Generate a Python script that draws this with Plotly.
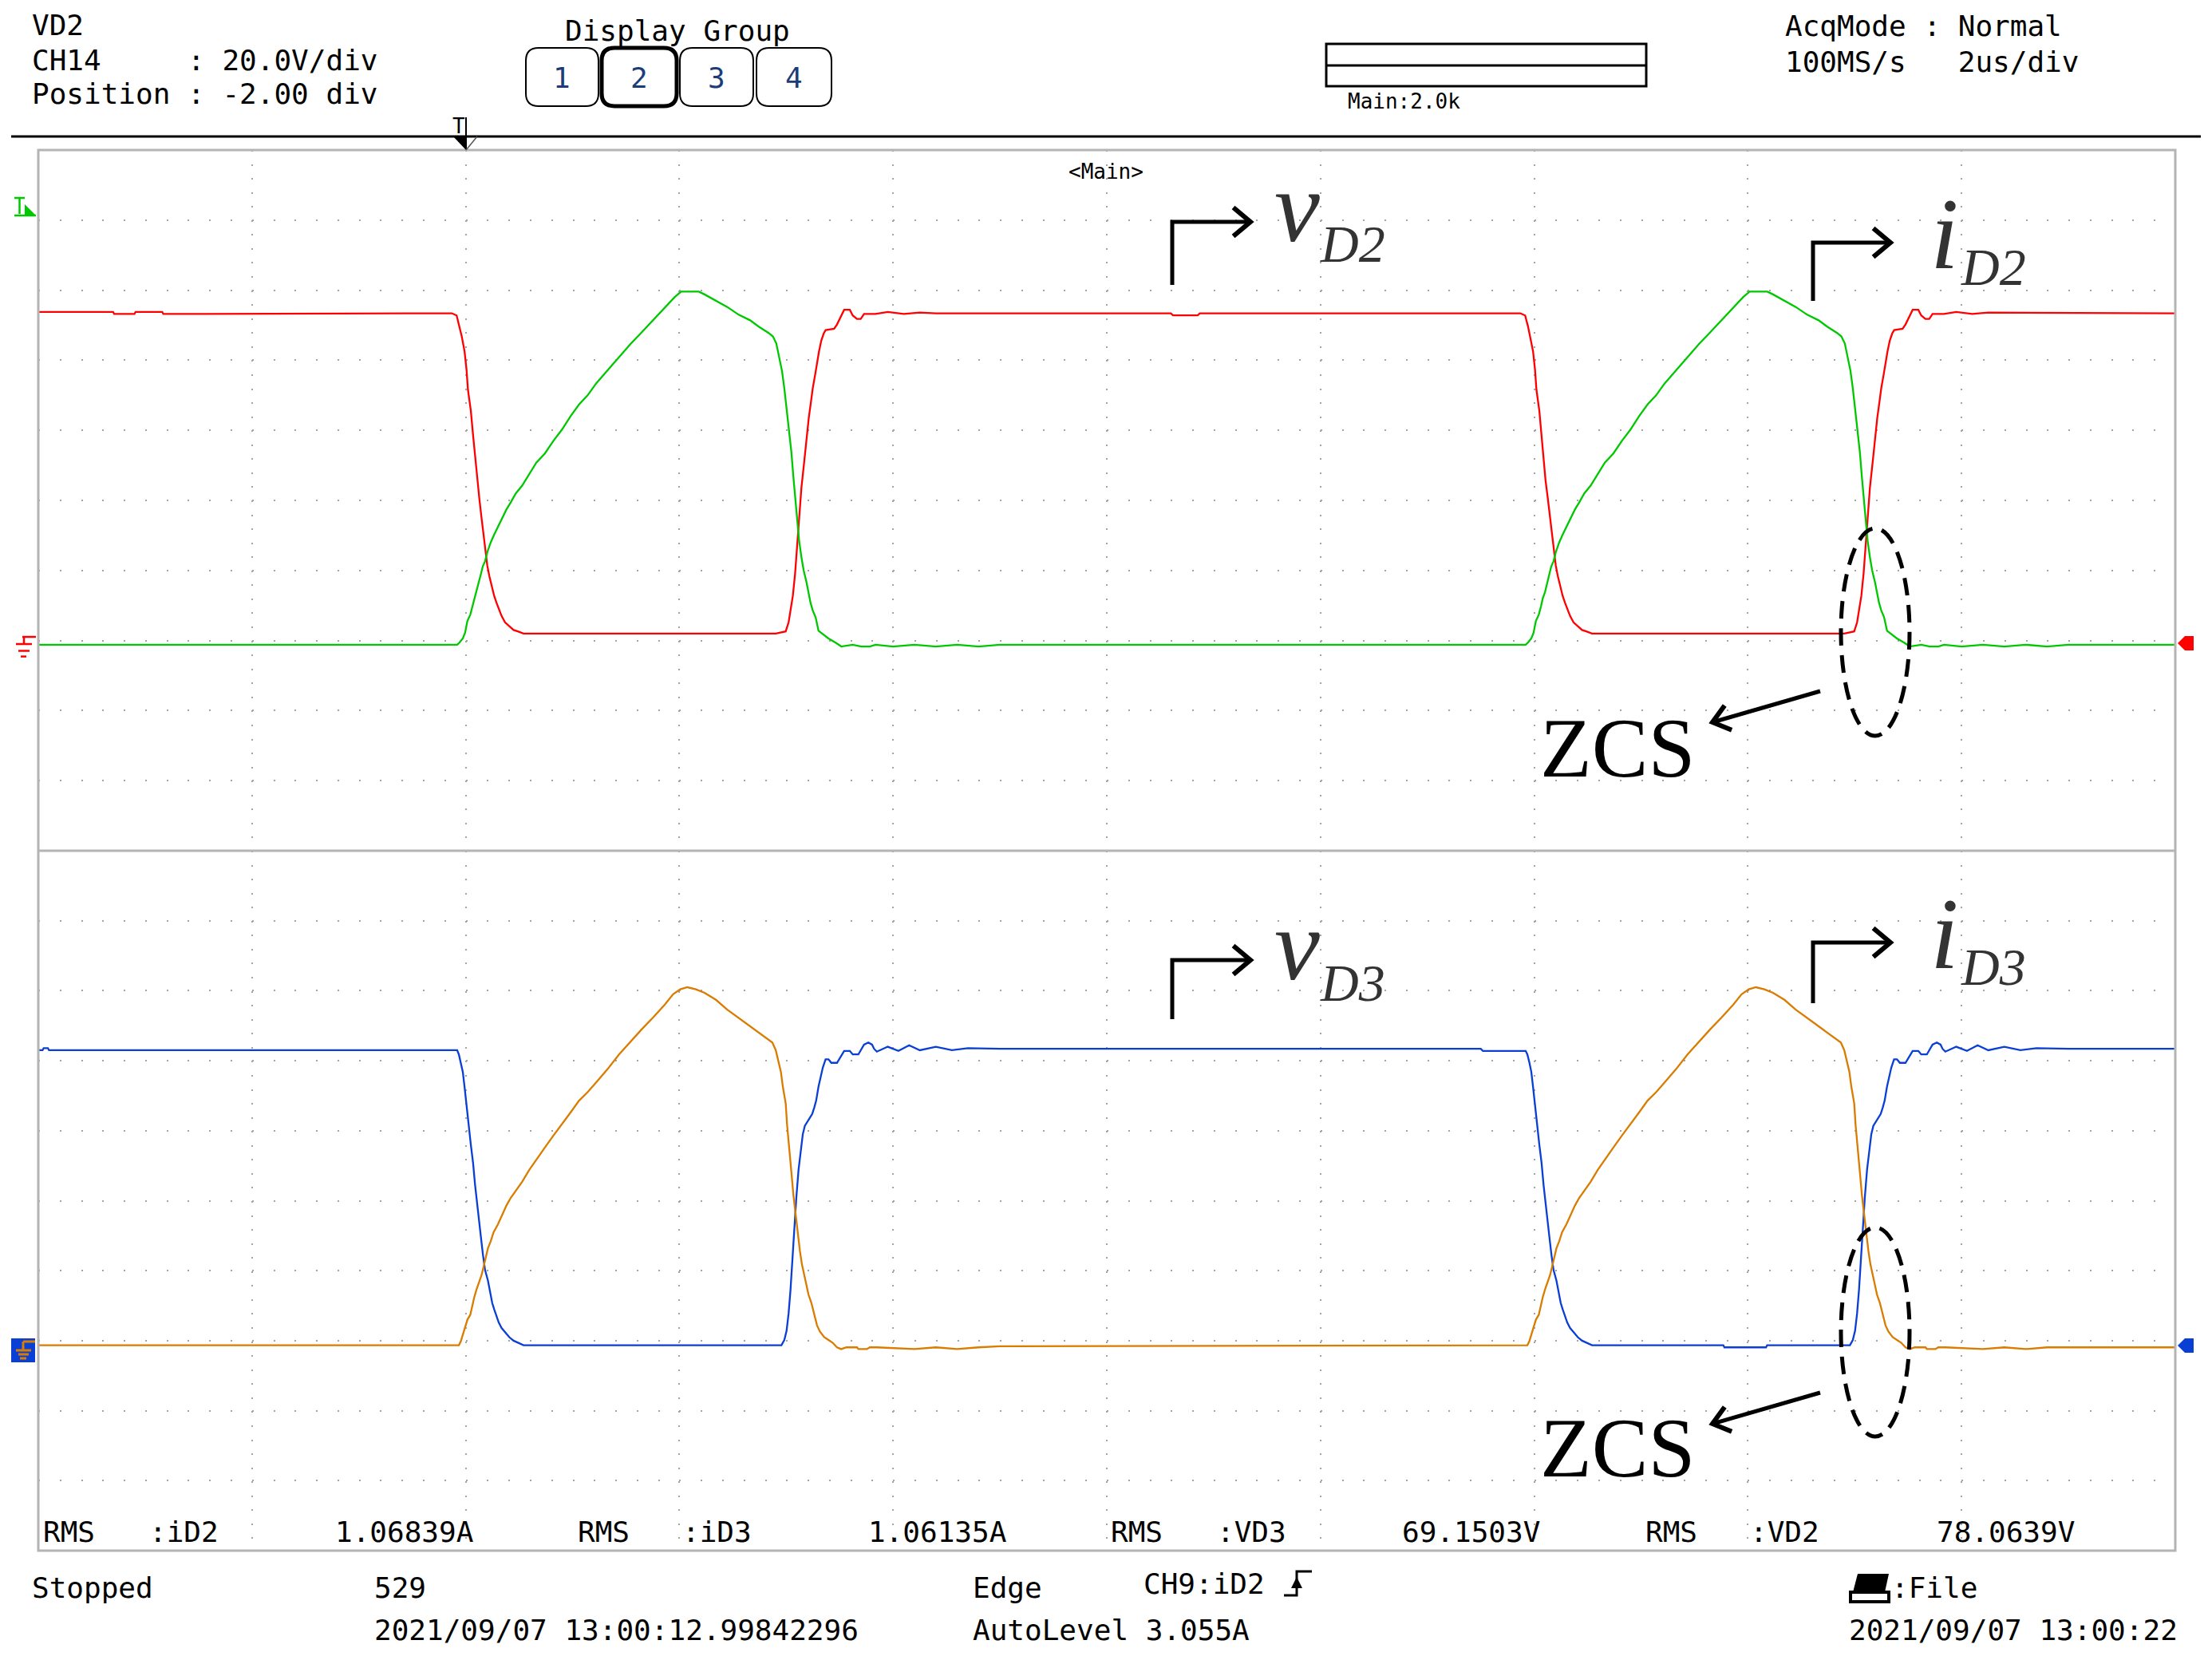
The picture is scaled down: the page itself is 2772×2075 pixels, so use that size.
import math
import plotly.graph_objects as go

W, H = 2772, 2075          # page size (reference pixels)
OFF = 8                    # default body margin of the html page
FW, FH = W - 2 * OFF, H - 2 * OFF

# ---------------- data (time in us, value in divisions above channel ground) -------------
T_VD2 = [-4.0, -3.30, -3.29, -3.10, -3.09, -2.84, -2.83, -0.13,
         -0.085, -0.059, -0.037, -0.011, 0.008, 0.021, 0.048, 0.069, 0.088, 0.106, 0.128, 0.149, 0.168, 0.186, 0.202,
         0.221, 0.243, 0.266, 0.288, 0.309, 0.336, 0.368, 0.408, 0.448, 0.488, 0.541,
         2.902, 2.995, 3.022, 3.040, 3.062, 3.083, 3.102, 3.120, 3.142, 3.168, 3.190, 3.211, 3.230, 3.248, 3.270,
         3.288, 3.307, 3.328, 3.350, 3.369, 3.448, 3.475, 3.502, 3.542, 3.595, 3.622, 3.662, 3.697, 3.728, 3.835,
         3.95, 4.10, 4.25, 4.40, 6.60, 6.62, 6.85, 6.87,
         9.87, 9.915, 9.941, 9.963, 9.989, 10.008, 10.021, 10.048, 10.069, 10.088, 10.106, 10.128, 10.149, 10.168,
         10.186, 10.202, 10.221, 10.243, 10.266, 10.288, 10.309, 10.336, 10.368, 10.408, 10.448, 10.488, 10.541,
         12.902, 12.995, 13.022, 13.040, 13.062, 13.083, 13.102, 13.120, 13.142, 13.168, 13.190, 13.211, 13.230,
         13.248, 13.270, 13.288, 13.307, 13.328, 13.350, 13.369, 13.448, 13.475, 13.502, 13.542, 13.595, 13.622,
         13.662, 13.697, 13.728, 13.835, 13.95, 14.10, 14.25, 16.0]
VD2_DIV = [4.69, 4.69, 4.66, 4.66, 4.69, 4.69, 4.66, 4.67,
           4.64, 4.49, 4.34, 4.13, 3.86, 3.58, 3.28, 2.93, 2.63, 2.29, 2.02, 1.74, 1.49, 1.28, 1.07,
           0.92, 0.77, 0.64, 0.54, 0.45, 0.35, 0.26, 0.20, 0.15, 0.13, 0.10,
           0.10, 0.13, 0.26, 0.41, 0.64, 0.96, 1.36, 1.78, 2.18, 2.55, 2.90, 3.18, 3.39, 3.60, 3.79,
           3.96, 4.13, 4.28, 4.38, 4.43, 4.45, 4.51, 4.60, 4.72, 4.72, 4.64, 4.59, 4.59, 4.66, 4.66,
           4.69, 4.66, 4.68, 4.67, 4.67, 4.64, 4.64, 4.67,
           4.67, 4.64, 4.49, 4.34, 4.13, 3.86, 3.58, 3.28, 2.93, 2.63, 2.29, 2.02, 1.74, 1.49,
           1.28, 1.07, 0.92, 0.77, 0.64, 0.54, 0.45, 0.35, 0.26, 0.20, 0.15, 0.13, 0.10,
           0.10, 0.13, 0.26, 0.41, 0.64, 0.96, 1.36, 1.78, 2.18, 2.55, 2.90, 3.18, 3.39,
           3.60, 3.79, 3.96, 4.13, 4.28, 4.38, 4.43, 4.45, 4.51, 4.60, 4.72, 4.72, 4.64,
           4.59, 4.59, 4.66, 4.66, 4.69, 4.66, 4.68, 4.67]

T_ID2 = [-4.0,
         -0.08, -0.059, -0.027, -0.006, 0.016, 0.043, 0.064, 0.080, 0.101, 0.122,
         0.141, 0.160, 0.181, 0.202, 0.234, 0.266, 0.301, 0.341, 0.381, 0.421,
         0.469, 0.528, 0.595, 0.661, 0.741, 0.821, 0.901, 0.981, 1.061, 1.141,
         1.221, 1.328, 1.435, 1.541, 1.648, 1.755, 1.862, 1.955, 2.016, 2.182,
         2.235, 2.342, 2.448, 2.555, 2.662, 2.742, 2.835, 2.875, 2.907, 2.934,
         2.960, 2.982, 3.003, 3.030, 3.048, 3.067, 3.088, 3.102, 3.120, 3.142,
         3.163, 3.190, 3.208, 3.227, 3.248, 3.275, 3.302, 3.342, 3.395, 3.462,
         3.515, 3.622, 3.702, 3.782, 3.835, 4.0, 4.2, 4.4, 4.6, 4.8, 5.0,
         9.92, 9.941, 9.973, 9.994, 10.016, 10.043, 10.064, 10.080, 10.101, 10.122,
         10.141, 10.160, 10.181, 10.202, 10.234, 10.266, 10.301, 10.341, 10.381, 10.421,
         10.469, 10.528, 10.595, 10.661, 10.741, 10.821, 10.901, 10.981, 11.061, 11.141,
         11.221, 11.328, 11.435, 11.541, 11.648, 11.755, 11.862, 11.955, 12.016, 12.182,
         12.235, 12.342, 12.448, 12.555, 12.662, 12.742, 12.835, 12.875, 12.907, 12.934,
         12.960, 12.982, 13.003, 13.030, 13.048, 13.067, 13.088, 13.102, 13.120, 13.142,
         13.163, 13.190, 13.208, 13.227, 13.248, 13.275, 13.302, 13.342, 13.395, 13.462,
         13.515, 13.622, 13.702, 13.782, 13.835, 14.0, 14.2, 14.4, 14.6, 14.8, 15.0, 16.0]
ID2_DIV = [-0.06,
           -0.06, -0.03, 0.03, 0.11, 0.28, 0.37, 0.49, 0.60, 0.69, 0.81,
           0.94, 1.06, 1.13, 1.26, 1.40, 1.51, 1.62, 1.75, 1.87, 1.97,
           2.10, 2.21, 2.38, 2.54, 2.67, 2.85, 3.01, 3.20, 3.37, 3.50,
           3.67, 3.86, 4.04, 4.23, 4.40, 4.57, 4.74, 4.90, 4.98, 4.98,
           4.94, 4.85, 4.76, 4.65, 4.57, 4.48, 4.39, 4.34, 4.24, 4.04,
           3.85, 3.60, 3.31, 3.01, 2.69, 2.33, 2.00, 1.70, 1.43, 1.19,
           1.00, 0.83, 0.68, 0.54, 0.43, 0.33, 0.14, 0.09, 0.03, -0.03,
           -0.085, -0.06, -0.085, -0.085, -0.06, -0.085, -0.06, -0.085, -0.06, -0.085, -0.06,
           -0.06, -0.03, 0.03, 0.11, 0.28, 0.37, 0.49, 0.60, 0.69, 0.81,
           0.94, 1.06, 1.13, 1.26, 1.40, 1.51, 1.62, 1.75, 1.87, 1.97,
           2.10, 2.21, 2.38, 2.54, 2.67, 2.85, 3.01, 3.20, 3.37, 3.50,
           3.67, 3.86, 4.04, 4.23, 4.40, 4.57, 4.74, 4.90, 4.98, 4.98,
           4.94, 4.85, 4.76, 4.65, 4.57, 4.48, 4.39, 4.34, 4.24, 4.04,
           3.85, 3.60, 3.31, 3.01, 2.69, 2.33, 2.00, 1.70, 1.43, 1.19,
           1.00, 0.83, 0.68, 0.54, 0.43, 0.33, 0.14, 0.09, 0.03, -0.03,
           -0.085, -0.06, -0.085, -0.085, -0.06, -0.085, -0.06, -0.085, -0.06, -0.085, -0.06, -0.06]

T_VD3 = [-4.0, -3.96, -3.95, -3.91, -3.90, -0.080,
         -0.064, -0.046, -0.027, -0.011, 0.008, 0.026, 0.048, 0.069, 0.088, 0.106,
         0.128, 0.146, 0.162, 0.181, 0.208, 0.229, 0.248, 0.266, 0.288, 0.309,
         0.336, 0.368, 0.408, 0.448, 0.488, 0.541,
         2.955, 2.982, 3.003, 3.022, 3.040, 3.056, 3.075, 3.094, 3.115, 3.136,
         3.155, 3.174, 3.195, 3.222, 3.243, 3.262, 3.280, 3.302, 3.323, 3.342,
         3.368, 3.395, 3.422, 3.475, 3.515, 3.542, 3.595, 3.622, 3.675, 3.702,
         3.728, 3.768, 3.803, 3.822, 3.848,
         3.95, 4.05, 4.15, 4.25, 4.40, 4.55, 4.70, 5.0, 9.5, 9.52,
         9.92,
         9.936, 9.954, 9.973, 9.989, 10.008, 10.026, 10.048, 10.069, 10.088, 10.106,
         10.128, 10.146, 10.162, 10.181, 10.208, 10.229, 10.248, 10.266, 10.288, 10.309,
         10.336, 10.368, 10.408, 10.448, 10.488, 10.541,
         11.77, 11.78, 12.17, 12.18,
         12.955, 12.982, 13.003, 13.022, 13.040, 13.056, 13.075, 13.094, 13.115, 13.136,
         13.155, 13.174, 13.195, 13.222, 13.243, 13.262, 13.280, 13.302, 13.323, 13.342,
         13.368, 13.395, 13.422, 13.475, 13.515, 13.542, 13.595, 13.622, 13.675, 13.702,
         13.728, 13.768, 13.803, 13.822, 13.848,
         13.95, 14.05, 14.15, 14.25, 14.40, 14.55, 14.70, 15.0, 16.0]
VD3_DIV = [4.15, 4.15, 4.18, 4.18, 4.15, 4.15,
           4.09, 3.98, 3.84, 3.63, 3.39, 3.11, 2.80, 2.54, 2.22, 1.95,
           1.68, 1.43, 1.22, 1.01, 0.86, 0.69, 0.54, 0.45, 0.35, 0.26,
           0.18, 0.12, 0.05, 0.00, -0.03, -0.065,
           -0.065, 0.01, 0.14, 0.39, 0.73, 1.13, 1.59, 2.04, 2.44, 2.75,
           2.95, 3.07, 3.12, 3.18, 3.24, 3.33, 3.43, 3.63, 3.77, 3.90,
           4.02, 4.02, 3.97, 3.97, 4.07, 4.14, 4.14, 4.09, 4.09, 4.17,
           4.23, 4.26, 4.23, 4.17, 4.13,
           4.20, 4.14, 4.22, 4.15, 4.20, 4.15, 4.18, 4.17, 4.17, 4.14,
           4.14,
           4.09, 3.98, 3.84, 3.63, 3.39, 3.11, 2.80, 2.54, 2.22, 1.95,
           1.68, 1.43, 1.22, 1.01, 0.86, 0.69, 0.54, 0.45, 0.35, 0.26,
           0.18, 0.12, 0.05, 0.00, -0.03, -0.065,
           -0.065, -0.095, -0.095, -0.065,
           -0.065, 0.01, 0.14, 0.39, 0.73, 1.13, 1.59, 2.04, 2.44, 2.75,
           2.95, 3.07, 3.12, 3.18, 3.24, 3.33, 3.43, 3.63, 3.77, 3.90,
           4.02, 4.02, 3.97, 3.97, 4.07, 4.14, 4.14, 4.09, 4.09, 4.17,
           4.23, 4.26, 4.23, 4.17, 4.13,
           4.20, 4.14, 4.22, 4.15, 4.20, 4.15, 4.18, 4.17, 4.17]

T_ID3 = [-4.0, -0.064,
         -0.046, -0.027, -0.006, 0.016, 0.043, 0.062, 0.080, 0.101, 0.122, 0.149,
         0.168, 0.186, 0.208, 0.234, 0.261, 0.301, 0.341, 0.381, 0.421, 0.474,
         0.528, 0.595, 0.661, 0.741, 0.821, 0.901, 0.981, 1.061, 1.141, 1.221,
         1.328, 1.435, 1.541, 1.648, 1.755, 1.862, 1.941, 2.008, 2.075, 2.154,
         2.235, 2.342, 2.448, 2.555, 2.662, 2.742, 2.822, 2.870, 2.902, 2.928,
         2.950, 2.968, 2.995, 3.008, 3.030, 3.048, 3.067, 3.088, 3.107, 3.128,
         3.147, 3.168, 3.190, 3.208, 3.235, 3.262, 3.288, 3.315, 3.355, 3.395,
         3.435, 3.475, 3.515, 3.563, 3.662, 3.675, 3.755, 3.782, 3.848, 4.2,
         4.4, 4.6, 4.8, 5.0, 9.9,
         9.936,
         9.954, 9.973, 9.994, 10.016, 10.043, 10.062, 10.080, 10.101, 10.122, 10.149,
         10.168, 10.186, 10.208, 10.234, 10.261, 10.301, 10.341, 10.381, 10.421, 10.474,
         10.528, 10.595, 10.661, 10.741, 10.821, 10.901, 10.981, 11.061, 11.141, 11.221,
         11.328, 11.435, 11.541, 11.648, 11.755, 11.862, 11.941, 12.008, 12.075, 12.154,
         12.235, 12.342, 12.448, 12.555, 12.662, 12.742, 12.822, 12.870, 12.902, 12.928,
         12.950, 12.968, 12.995, 13.008, 13.030, 13.048, 13.067, 13.088, 13.107, 13.128,
         13.147, 13.168, 13.190, 13.208, 13.235, 13.262, 13.288, 13.315, 13.355, 13.395,
         13.435, 13.475, 13.515, 13.563, 13.662, 13.675, 13.755, 13.782, 13.848, 14.2,
         14.4, 14.6, 14.8, 16.0]
ID3_DIV = [-0.065, -0.065,
           -0.01, 0.09, 0.18, 0.30, 0.37, 0.51, 0.62, 0.73, 0.83, 0.94,
           1.06, 1.19, 1.32, 1.42, 1.55, 1.66, 1.80, 1.93, 2.04, 2.16,
           2.27, 2.44, 2.59, 2.76, 2.93, 3.09, 3.26, 3.43, 3.55, 3.69,
           3.88, 4.09, 4.27, 4.45, 4.62, 4.80, 4.95, 5.02, 5.05, 5.02,
           4.97, 4.87, 4.73, 4.61, 4.50, 4.40, 4.32, 4.26, 4.15, 4.00,
           3.84, 3.63, 3.39, 3.08, 2.75, 2.41, 2.08, 1.80, 1.50, 1.28,
           1.09, 0.94, 0.79, 0.66, 0.54, 0.39, 0.22, 0.13, 0.05, 0.01,
           -0.03, -0.095, -0.12, -0.095, -0.095, -0.12, -0.12, -0.095, -0.095, -0.12,
           -0.095, -0.12, -0.095, -0.08, -0.065,
           -0.065,
           -0.01, 0.09, 0.18, 0.30, 0.37, 0.51, 0.62, 0.73, 0.83, 0.94,
           1.06, 1.19, 1.32, 1.42, 1.55, 1.66, 1.80, 1.93, 2.04, 2.16,
           2.27, 2.44, 2.59, 2.76, 2.93, 3.09, 3.26, 3.43, 3.55, 3.69,
           3.88, 4.09, 4.27, 4.45, 4.62, 4.80, 4.95, 5.02, 5.05, 5.02,
           4.97, 4.87, 4.73, 4.61, 4.50, 4.40, 4.32, 4.26, 4.15, 4.00,
           3.84, 3.63, 3.39, 3.08, 2.75, 2.41, 2.08, 1.80, 1.50, 1.28,
           1.09, 0.94, 0.79, 0.66, 0.54, 0.39, 0.22, 0.13, 0.05, 0.01,
           -0.03, -0.095, -0.12, -0.095, -0.095, -0.12, -0.12, -0.095, -0.095, -0.12,
           -0.095, -0.12, -0.095, -0.095]

for a, b in [(T_VD2, VD2_DIV), (T_ID2, ID2_DIV), (T_VD3, VD3_DIV), (T_ID3, ID3_DIV)]:
    assert len(a) == len(b), (len(a), len(b))

RMS_NAMES = [":iD2", ":iD3", ":VD3", ":VD2"]
RMS_VALUES = ["1.06839A", "1.06135A", "69.1503V", "78.0639V"]
GROUP_BUTTONS = ["1", "2", "3", "4"]

# ---------------- styling ----------------
RED, GREEN, BLUE, ORANGE = "#ff0000", "#00c800", "#0a3fd6", "#d97c00"
MONO = "DejaVu Sans Mono"
SERIF = "Liberation Serif"
NB = "\u00a0"


def px(x):
    return (x - OFF) / FW


def py(y):
    return 1 - (y - OFF) / FH


def pt(x, y):
    return f"{px(x):.6f},{py(y):.6f}"


def path(points, close=False):
    s = "M " + " L ".join(pt(x, y) for x, y in points)
    return s + (" Z" if close else "")


fig = go.Figure()
fig.add_trace(go.Scatter(x=T_VD2, y=VD2_DIV, mode="lines", line=dict(color=RED, width=2.3), xaxis="x", yaxis="y"))
fig.add_trace(go.Scatter(x=T_ID2, y=ID2_DIV, mode="lines", line=dict(color=GREEN, width=2.3), xaxis="x", yaxis="y"))
fig.add_trace(go.Scatter(x=T_VD3, y=VD3_DIV, mode="lines", line=dict(color=BLUE, width=2.3), xaxis="x", yaxis="y2"))
fig.add_trace(go.Scatter(x=T_ID3, y=ID3_DIV, mode="lines", line=dict(color=ORANGE, width=2.3), xaxis="x", yaxis="y2"))

X0, X1 = 48, 2726
YT, YM, YB = 188, 1066, 1943
GRID = "#a4a4a4"

fig.update_layout(
    width=FW, height=FH, autosize=False, showlegend=False,
    margin=dict(l=0, r=0, t=0, b=0),
    paper_bgcolor="white", plot_bgcolor="rgba(0,0,0,0)",
    xaxis=dict(domain=[px(X0), px(X1)], range=[-4, 16], tick0=-4, dtick=2, showgrid=True,
               gridcolor=GRID, gridwidth=2, griddash="2px,15.56px", zeroline=False,
               showticklabels=False, ticks="", showline=False, anchor="y2", fixedrange=True),
    yaxis=dict(domain=[py(YM), py(YT)], range=[-3, 7], tick0=-3, dtick=1, showgrid=True,
               gridcolor=GRID, gridwidth=2, griddash="2px,24.78px", zeroline=False,
               showticklabels=False, ticks="", showline=False, anchor="x"),
    yaxis2=dict(domain=[py(YB), py(YM)], range=[-3, 7], tick0=-3, dtick=1, showgrid=True,
                gridcolor=GRID, gridwidth=2, griddash="2px,24.78px", zeroline=False,
                showticklabels=False, ticks="", showline=False, anchor="x"),
)

shapes = []


def line(x0, y0, x1, y1, color="black", width=3, dash=None):
    d = dict(type="line", xref="paper", yref="paper", x0=px(x0), y0=py(y0), x1=px(x1), y1=py(y1),
             line=dict(color=color, width=width), layer="above")
    if dash:
        d["line"]["dash"] = dash
    shapes.append(d)


def poly(points, fill, color=None, width=0, close=True):
    shapes.append(dict(type="path", xref="paper", yref="paper", path=path(points, close),
                       fillcolor=fill, line=dict(color=color or fill, width=width), layer="above"))


def polyline(points, color="black", width=5):
    shapes.append(dict(type="path", xref="paper", yref="paper", path=path(points, False),
                       line=dict(color=color, width=width), layer="above"))


def rrect(x0, y0, x1, y1, r, width):
    p = (f"M {pt(x0 + r, y0)} L {pt(x1 - r, y0)} Q {pt(x1, y0)} {pt(x1, y0 + r)} "
         f"L {pt(x1, y1 - r)} Q {pt(x1, y1)} {pt(x1 - r, y1)} L {pt(x0 + r, y1)} "
         f"Q {pt(x0, y1)} {pt(x0, y1 - r)} L {pt(x0, y0 + r)} Q {pt(x0, y0)} {pt(x0 + r, y0)} Z")
    shapes.append(dict(type="path", xref="paper", yref="paper", path=p,
                       line=dict(color="black", width=width), layer="above"))


def chevron(tip, frm, length=26, ang=38):
    dx, dy = frm[0] - tip[0], frm[1] - tip[1]
    n = math.hypot(dx, dy)
    ux, uy = dx / n, dy / n
    pts = []
    for s in (1, -1):
        a = math.radians(ang * s)
        vx = ux * math.cos(a) - uy * math.sin(a)
        vy = ux * math.sin(a) + uy * math.cos(a)
        pts.append((tip[0] + length * vx, tip[1] + length * vy))
    polyline([pts[0], tip, pts[1]], width=6)


# header separator and screen frame
line(14, 171, 2758, 171, width=3)
shapes.append(dict(type="rect", xref="paper", yref="paper", x0=px(X0), y0=py(YB), x1=px(X1), y1=py(YT),
                   line=dict(color="#b4b4b4", width=3), layer="above"))
line(X0, YM, X1, YM, color="#b4b4b4", width=3)

# display group buttons
for (bx0, bx1), w in zip([(659, 750), (754, 848), (852, 944), (948, 1042)], [2, 5, 2, 2]):
    rrect(bx0, 60, bx1, 133, 16, w)

# zoom bar
shapes.append(dict(type="rect", xref="paper", yref="paper", x0=px(1662), y0=py(108), x1=px(2063), y1=py(55),
                   line=dict(color="black", width=3), layer="above"))
line(1662, 82, 2063, 82, width=3)

# trigger position marker
line(584, 147, 584, 187, width=2)
poly([(568, 171), (584, 171), (584, 188)], "black")
line(584, 188, 598, 171, color="#555555", width=1.5)

# green trigger-level marker (left)
line(18, 248, 31, 248, color=GREEN, width=2.5)
line(24.5, 248, 24.5, 268, color=GREEN, width=2.5)
line(18, 270, 45, 270, color=GREEN, width=2.5)
poly([(31, 256), (45, 270), (31, 270)], GREEN)

# red ground marker (left)
for (a, b, c, d) in [(28, 798, 45, 798), (30, 798, 30, 807), (20, 807, 40, 807), (23, 815.5, 37, 815.5),
                     (26, 822.6, 33, 822.6)]:
    line(a, b, c, d, color=RED, width=2.5)

# blue ground marker (left)
poly([(14, 1677), (44, 1677), (44, 1707), (14, 1707)], BLUE)
for (a, b, c, d) in [(29, 1681, 44, 1681), (29, 1681, 29, 1692), (20, 1692, 39, 1692), (23, 1697, 36, 1697),
                     (25, 1702, 33, 1702)]:
    line(a, b, c, d, color=ORANGE, width=3)

# right side channel markers
poly([(2729, 806), (2738, 797), (2749, 797), (2749, 815), (2738, 815)], RED)
poly([(2729, 1686), (2738, 1677), (2749, 1677), (2749, 1695), (2738, 1695)], BLUE)

# label arrows
for cx, cy, by, tipx in [(1469, 278, 357, 1567), (2272, 304, 377, 2369),
                         (1469, 1203, 1277, 1567), (2272, 1181, 1257, 2369)]:
    polyline([(cx, by), (cx, cy), (tipx - 3, cy)], width=5)
    chevron((tipx, cy), (cx, cy), length=28, ang=40)

# ZCS ellipses and arrows
for ey0, ey1, ay in [(662, 922, 866), (1538, 1800, 1745)]:
    shapes.append(dict(type="circle", xref="paper", yref="paper", x0=px(2307), x1=px(2393),
                       y0=py(ey1), y1=py(ey0), line=dict(color="black", width=5, dash="22px,12px"),
                       layer="above"))
    tip = (2146, ay + 39)
    polyline([(2281, ay), tip], width=5)
    chevron(tip, (2281, ay), length=26, ang=38)

# trigger edge symbol and printer icon
polyline([(1609, 1999), (1625, 1999), (1625, 1969), (1644, 1969)], width=3)
poly([(1618, 1990), (1632, 1990), (1625, 1976)], "black")
poly([(2328, 1972), (2367, 1972), (2362, 1995), (2322, 1995)], "black")
shapes.append(dict(type="rect", xref="paper", yref="paper", x0=px(2319), y0=py(2007), x1=px(2367), y1=py(1995),
                   line=dict(color="black", width=4), fillcolor="white", layer="above"))

fig.update_layout(shapes=shapes)

ann = []


def text(s, x, y, size=36, color="black", family=MONO, xanchor="left"):
    ann.append(dict(text=s.replace(" ", NB), x=px(x), y=py(y), xref="paper", yref="paper", showarrow=False,
                    xanchor=xanchor, yanchor="middle", font=dict(family=family, size=size, color=color),
                    borderpad=0))


# header
text("VD2", 39, 31)
text("CH14     : 20.0V/div", 39, 75)
text("Position : -2.00 div", 39, 118)
text("Display Group", 707, 38)
for lab, cx in zip(GROUP_BUTTONS, [704, 801, 898, 995]):
    text(lab, cx, 97, color="#1c3c78", xanchor="center")
text("AcqMode : Normal", 2236, 33)
text("100MS/s   2us/div", 2236, 77)
text("Main:2.0k", 1688, 127, size=26)
text("<Main>", 1338, 215, size=26)
text("T", 575, 158, size=26, xanchor="center")

# measurement row
rms_x = [(53, 186, 419), (723, 854, 1087), (1391, 1524, 1756), (2061, 2192, 2426)]
for (xa, xb, xc), nm, val in zip(rms_x, RMS_NAMES, RMS_VALUES):
    text("RMS", xa, 1919)
    text(nm, xb, 1919)
    text(val, xc, 1919)

# status rows
text("Stopped", 39, 1989)
text("529", 468, 1989)
text("2021/09/07 13:00:12.99842296", 468, 2042)
text("Edge", 1218, 1989)
text("AutoLevel 3.055A", 1218, 2042)
text("CH9:iD2", 1432, 1984)
text(":File", 2369, 1989)
text("2021/09/07 13:00:22", 2316, 2042)

# waveform labels
LAB = "#333333"
text("<i>v</i>", 1596, 259, size=128, color=LAB, family=SERIF)
text("<i>D2</i>", 1653, 306, size=66, color=LAB, family=SERIF)
text("<i>i</i>", 2418, 293, size=128, color=LAB, family=SERIF)
text("<i>D2</i>", 2456, 334, size=66, color=LAB, family=SERIF)
text("<i>v</i>", 1596, 1184, size=128, color=LAB, family=SERIF)
text("<i>D3</i>", 1653, 1231, size=66, color=LAB, family=SERIF)
text("<i>i</i>", 2418, 1170, size=128, color=LAB, family=SERIF)
text("<i>D3</i>", 2456, 1211, size=66, color=LAB, family=SERIF)
text("ZCS", 1929, 937, size=106, family=SERIF)
text("ZCS", 1929, 1814, size=106, family=SERIF)

fig.update_layout(annotations=ann)
fig.write_html("out.html")
